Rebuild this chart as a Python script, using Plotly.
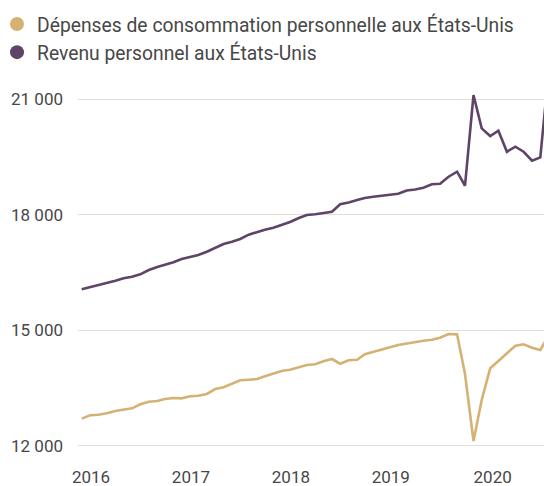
import pandas as pd
import plotly.graph_objects as go

# Monthly data, May 2016 -> Jan 2021 (billions USD, SAAR)
months = pd.date_range("2016-05-01", "2021-01-01", freq="MS")

consommation = [
    12709, 12796, 12812, 12848, 12908, 12934, 12977, 13081, 13149, 13167,
    13219, 13245, 13236, 13289, 13304, 13349, 13478, 13522, 13608, 13704,
    13720, 13738, 13808, 13875, 13945, 13979, 14031, 14101, 14118, 14197,
    14256, 14134, 14222, 14238, 14378, 14446, 14497, 14560, 14619, 14663,
    14689, 14731, 14757, 14809, 14905, 14896, 13867, 12130, 13193, 14015,
    14204, 14404, 14601, 14637, 14549, 14490, 14871,
]

revenu = [
    16064, 16116, 16183, 16227, 16287, 16349, 16391, 16453, 16564, 16642,
    16694, 16764, 16850, 16894, 16953, 17039, 17143, 17239, 17298, 17368,
    17480, 17550, 17610, 17661, 17731, 17809, 17905, 17991, 18009, 18050,
    18076, 18270, 18315, 18380, 18432, 18466, 18483, 18518, 18543, 18626,
    18652, 18700, 18787, 18802, 18984, 19114, 18750, 21103, 20239, 20039,
    20177, 19632, 19762, 19632, 19399, 19487, 21740,
]

series_names = [
    "Dépenses de consommation personnelle aux États-Unis",
    "Revenu personnel aux États-Unis",
]
colors = ["#D5B274", "#5E4467"]

x_tick_vals = ["2016-06-04", "2017-06-04", "2018-06-04", "2019-06-04", "2020-06-10"]
x_tick_text = ["2016", "2017", "2018", "2019", "2020"]
y_tick_vals = [12000, 15000, 18000, 21000]

FONT = "Roboto, Arial, sans-serif"
TEXT = "#474747"
GRID = "#E3DFD8"

fig = go.Figure()
for name, vals, col in zip(series_names, [consommation, revenu], colors):
    fig.add_trace(go.Scatter(
        x=months, y=vals, mode="lines", name=name,
        line=dict(color=col, width=2.6), showlegend=False,
    ))
for name, col in zip(series_names, colors):
    fig.add_trace(go.Scatter(
        x=[None], y=[None], mode="markers", name=name,
        marker=dict(color=col, size=14, symbol="circle"),
        showlegend=True,
    ))

fig.update_layout(
    width=544, height=486,
    margin=dict(l=78, r=0, t=85, b=36, autoexpand=False),
    paper_bgcolor="white", plot_bgcolor="white",
    separators=", ",
    font=dict(family=FONT, size=17, color=TEXT),
    showlegend=True,
    legend=dict(
        x=-0.1738, y=1.2192, xanchor="left", yanchor="top",
        orientation="v", itemwidth=30, tracegroupgap=0,
        font=dict(family=FONT, size=19.3, color=TEXT),
        bgcolor="rgba(0,0,0,0)",
    ),
    xaxis=dict(
        type="date",
        range=["2016-04-17 12:00", "2020-12-14 12:00"],
        tickmode="array", tickvals=x_tick_vals, ticktext=x_tick_text,
        showgrid=False, zeroline=False, showline=False, ticks="",
        ticklabelstandoff=15,
        tickfont=dict(family=FONT, size=17, color=TEXT),
    ),
    yaxis=dict(
        range=[11896, 21363],
        tickmode="array", tickvals=y_tick_vals,
        tickformat=",d",
        showgrid=True, gridcolor=GRID, gridwidth=1,
        zeroline=False, showline=False, ticks="",
        ticklabelstandoff=14,
        tickfont=dict(family=FONT, size=17, color=TEXT),
    ),
)

# remove the browser's default 8px page margin so the figure sits at (0, 0)
fig.write_html(
    "out.html",
    config={"displayModeBar": False},
    post_script="document.body.style.margin='0';",
)
